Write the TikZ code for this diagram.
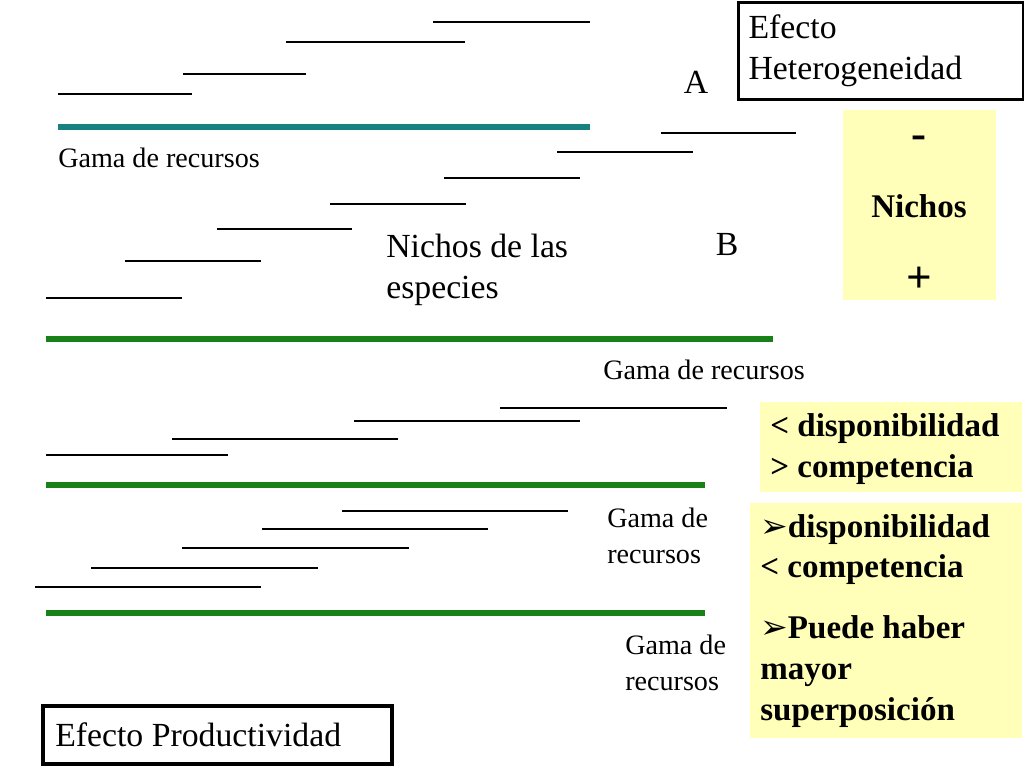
\documentclass[tikz,border=0pt]{standalone}
\usepackage{fontspec}
\setmainfont{Liberation Serif}
\newfontfamily\symfont{DejaVu Sans}
\definecolor{tealline}{RGB}{24,130,130}
\definecolor{greenline}{RGB}{24,130,24}
\definecolor{paleyellow}{RGB}{255,255,185}
\tikzset{
  niche/.style={line width=0.9pt},
  gradient/.style={line width=4.5pt},
  small/.style={font=\fontsize{20}{24}\selectfont, inner sep=0, align=left},
  big/.style={font=\fontsize{24}{29}\selectfont, inner sep=0, align=left},
  boldtext/.style={font=\fontsize{23.5}{29}\selectfont\bfseries, inner sep=0, align=left},
  sign/.style={font=\fontsize{32}{36}\selectfont\bfseries, inner sep=0},
  note/.style={fill=paleyellow, draw=none},
  framed/.style={draw=black, line width=2.2pt, fill=white}
}
\begin{document}
\begin{tikzpicture}[x=0.025cm,y=-0.025cm]
  \useasboundingbox (0,0) rectangle (1024,768);
  % species niches
  \foreach \a/\b/\y in {433/590/22, 286/465/42, 183/306/74, 58/192/94,
    661/796/133, 557/693/152, 444/580/178, 330/466/204, 217/352/229,
    125/261/261, 46/182/298,
    500/727/408, 354/580/421, 172/398/439, 46/228/455,
    342/568/511, 262/488/529, 182/409/548, 91/318/568, 35/261/587}
    \draw[niche] (\a,\y) -- (\b,\y);
  % resource ranges
  \draw[gradient, tealline] (58,127) -- (590,127);
  \draw[gradient, greenline] (46,339) -- (773,339);
  \draw[gradient, greenline] (46,485) -- (705,485);
  \draw[gradient, greenline] (46,613) -- (705,613);

  \node[small, anchor=west] (gamaA) at (58,158) {Gama de recursos};
  \node[small, anchor=west] (gamaB) at (603,370) {Gama de recursos};
  \node[small, anchor=west] (gamaC) at (607,536) {Gama de\\[2pt]recursos};
  \node[small, anchor=west] (gamaD) at (625,663) {Gama de\\[2pt]recursos};

  \node[big] (labA) at (696,82) {A};
  \node[big] (labB) at (727,244) {B};
  \node[big, anchor=west] (especies) at (386,270) {Nichos de las\\especies};

  \node[framed, anchor=north west, minimum width=285*0.025cm, minimum height=97*0.025cm,
        big, inner sep=5pt, text width=265*0.025cm] (hetero) at (737,1) {Efecto\\Heterogeneidad};
  \draw[framed] (43,706) rectangle (392,764);
  \node[big, anchor=west] (prod) at (55,735) {Efecto Productividad};

  \fill[note] (843,110) rectangle (996,300);
  \node[sign] (menos) at (919,142) {-};
  \node[boldtext] (nichos) at (919,206) {Nichos};
  \node[sign] (mas) at (919,280) {+};

  \fill[note] (760,402) rectangle (1022,492);
  \node[boldtext, anchor=west] (disp1) at (770,449) {< disponibilidad\\> competencia};

  \fill[note] (750,503) rectangle (1022,738);
  \node[boldtext, anchor=north west] (disp2) at (760,514)
    {{\symfont\mdseries ➢}disponibilidad\\< competencia\\[14pt]{\symfont\mdseries ➢}Puede haber\\mayor\\superposición};
\end{tikzpicture}
\end{document}
